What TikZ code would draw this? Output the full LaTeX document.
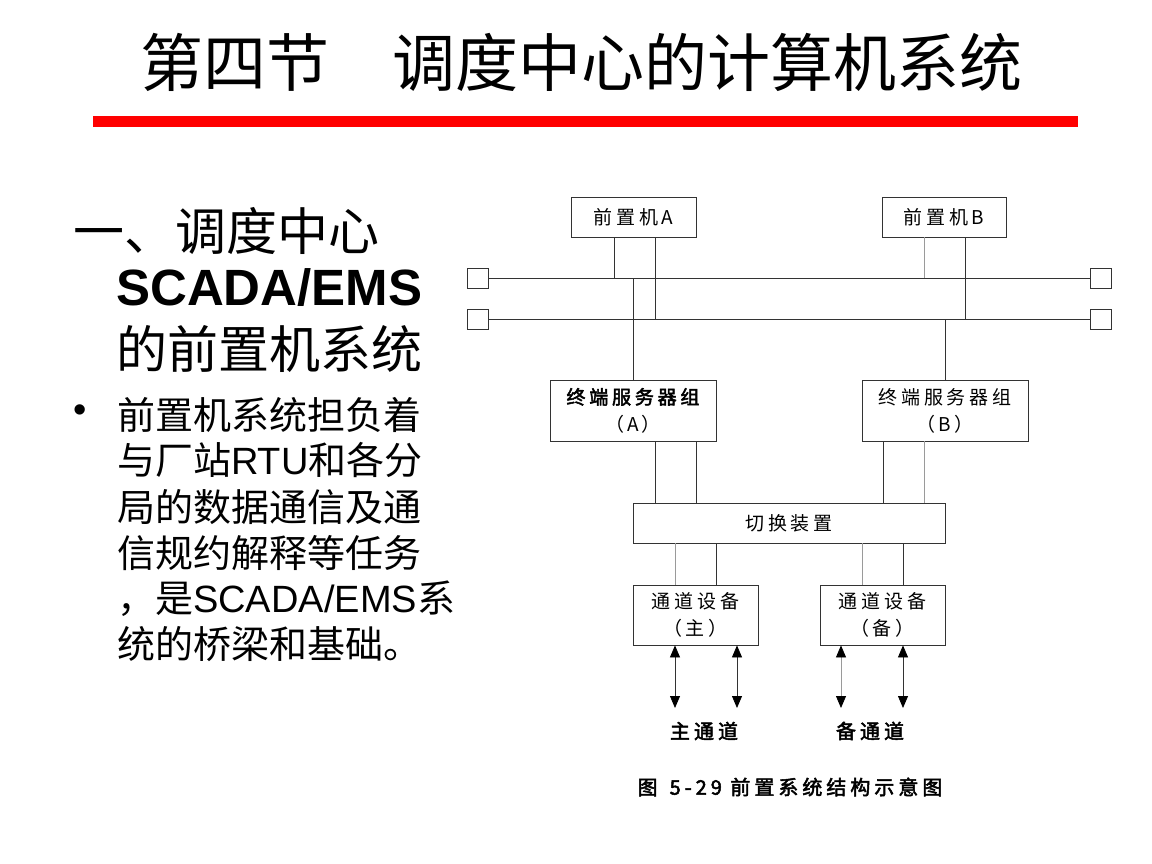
\documentclass[tikz,border=0pt]{standalone}
\usepackage{fontspec}
\setmainfont{Liberation Sans}
\newfontfamily\cjk{Noto Sans CJK SC}
\newfontfamily\dia[LetterSpace=20]{Noto Sans CJK SC}
\newfontfamily\diab[LetterSpace=20,FakeBold=2.5]{Noto Sans CJK SC}
\usetikzlibrary{arrows.meta}
\definecolor{lin}{HTML}{333333}
\definecolor{lgr}{HTML}{9A9A9A}
\begin{document}
\begin{tikzpicture}[x=1pt,y=-1pt,
  box/.style={draw=lin,line width=0.8pt,inner sep=0pt,align=center,font=\dia\fontsize{19}{27}\selectfont},
  sq/.style={draw=lin,line width=0.8pt,minimum width=21pt,minimum height=20pt,inner sep=0pt},
  ln/.style={draw=lin,line width=0.8pt},
  gl/.style={draw=lgr,line width=0.8pt},
  dbl/.style={line width=0.8pt,{Triangle[length=12pt,width=10pt,fill=black,color=black]}-{Triangle[length=12pt,width=10pt,fill=black,color=black]}},
  body/.style={anchor=base west,inner sep=0pt,font=\fontsize{38}{38}\selectfont},
]
\useasboundingbox (0,0) rectangle (1152,864);
\fill[white] (0,0) rectangle (1152,864);

% title
\node[inner sep=0pt,anchor=west,font=\cjk\fontsize{63}{63}\selectfont] (title) at (140,62) {第四节\hspace{1em}调度中心的计算机系统};
\fill[red] (93,116) rectangle (1078,127);

% left text
\node[inner sep=0pt,anchor=west,font=\cjk\fontsize{51}{51}\selectfont] (h1) at (73,231) {一、调度中心};
\node[inner sep=0pt,anchor=base west,font=\bfseries\fontsize{51}{51}\selectfont] (h2) at (116,305) {SCADA/EMS};
\node[inner sep=0pt,anchor=west,font=\cjk\fontsize{51}{51}\selectfont] (h3) at (116,349) {的前置机系统};

\node[inner sep=0pt,font=\fontsize{38}{38}\selectfont] (bul) at (80,414) {•};
\node[body] (l1) at (117,429) {\cjk 前置机系统担负着};
\node[body] (l2) at (117,474) {{\cjk 与厂站}RTU{\cjk 和各分}};
\node[body] (l3) at (117,521) {\cjk 局的数据通信及通};
\node[body] (l4) at (117,567) {\cjk 信规约解释等任务};
\node[body] (l5) at (117,612) {{\cjk ，是}SCADA/EMS{\cjk 系}};
\node[body] (l6) at (117,658) {\cjk 统的桥梁和基础。};

% diagram
\node[box,minimum width=125pt,minimum height=40pt] (pa) at (633.5,217) {前置机A};
\node[box,minimum width=124pt,minimum height=40pt] (pb) at (944,217) {前置机B};
\node[sq] (s1l) at (477.5,278) {};
\node[sq] (s2l) at (477.5,319) {};
\node[sq] (s1r) at (1100.5,278) {};
\node[sq] (s2r) at (1100.5,319) {};
\draw[ln] (s1l.east) -- (s1r.west);
\draw[ln] (s2l.east) -- (s2r.west);
\coordinate (bus1) at (0,278);
\coordinate (bus2) at (0,319);

\node[box,minimum width=166pt,minimum height=61pt] (tsa) at (633,410.5) {{\diab 终端服务器组}\\（\,A\,）};
\node[box,minimum width=166pt,minimum height=61pt] (tsb) at (945,410.5) {终端服务器组\\（\,B\,）};
\node[box,minimum width=312pt,minimum height=40pt] (sw) at (789,523) {切换装置};
\node[box,minimum width=125pt,minimum height=60pt] (cm) at (695.5,615) {通道设备\\（\,主\,）};
\node[box,minimum width=125pt,minimum height=60pt] (cb) at (882.5,615) {通道设备\\（\,备\,）};

% front-end to buses
\coordinate (pa1) at ([xshift=-19.5pt]pa.south);
\coordinate (pa2) at ([xshift=21.5pt]pa.south);
\coordinate (pb1) at ([xshift=-20pt]pb.south);
\coordinate (pb2) at ([xshift=21pt]pb.south);
\draw[ln] (pa1) -- (pa1 |- bus1);
\draw[ln] (pa2) -- (pa2 |- bus2);
\draw[gl] (pb1) -- (pb1 |- bus1);
\draw[ln] (pb2) -- (pb2 |- bus2);

% buses to terminal servers
\draw[ln] (tsa.north) -- (tsa.north |- bus1);
\draw[ln] (tsb.north) -- (tsb.north |- bus2);

% terminal servers to switch
\coordinate (ta1) at ([xshift=22pt]tsa.south);
\coordinate (ta2) at ([xshift=63pt]tsa.south);
\coordinate (tb1) at ([xshift=-62pt]tsb.south);
\coordinate (tb2) at ([xshift=-21pt]tsb.south);
\draw[ln] (ta1) -- (ta1 |- sw.north);
\draw[ln] (ta2) -- (ta2 |- sw.north);
\draw[ln] (tb1) -- (tb1 |- sw.north);
\draw[gl] (tb2) -- (tb2 |- sw.north);

% switch to channel equipment
\coordinate (cm1) at ([xshift=-20.5pt]cm.north);
\coordinate (cm2) at ([xshift=20.5pt]cm.north);
\coordinate (cb1) at ([xshift=-20.5pt]cb.north);
\coordinate (cb2) at ([xshift=20.5pt]cb.north);
\draw[gl] (cm1) -- (cm1 |- sw.south);
\draw[ln] (cm2) -- (cm2 |- sw.south);
\draw[gl] (cb1) -- (cb1 |- sw.south);
\draw[ln] (cb2) -- (cb2 |- sw.south);

% channels
\node[inner sep=0pt,font=\diab\fontsize{20}{20}\selectfont] (lm) at (704,731) {主通道};
\node[inner sep=0pt,font=\diab\fontsize{20}{20}\selectfont] (lb) at (870,731) {备通道};
\coordinate (am1) at ([xshift=-20.5pt]cm.south);
\coordinate (am2) at ([xshift=41.5pt]cm.south);
\coordinate (ab1) at ([xshift=-41.5pt]cb.south);
\coordinate (ab2) at ([xshift=20.5pt]cb.south);
\coordinate (end) at (0,708);
\draw[dbl,draw=lin] (am1) -- (am1 |- end);
\draw[dbl,draw=lin] (am2) -- (am2 |- end);
\draw[dbl,draw=lgr] (ab1) -- (ab1 |- end);
\draw[dbl,draw=lin] (ab2) -- (ab2 |- end);

\node[inner sep=0pt,font=\diab\fontsize{20}{20}\selectfont] (cap) at (790,787) {图\hspace{0.6em}5-29 前置系统结构示意图};
\end{tikzpicture}
\end{document}
